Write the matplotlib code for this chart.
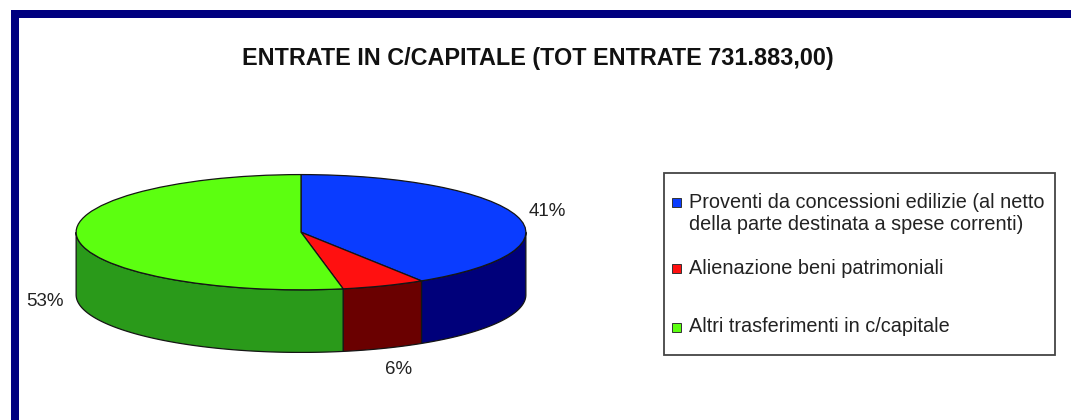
import numpy as np
import matplotlib
matplotlib.use("Agg")
import matplotlib.pyplot as plt
from matplotlib.patches import Polygon, Rectangle

plt.rcParams['font.family'] = ['Liberation Sans', 'DejaVu Sans']

title = "ENTRATE IN C/CAPITALE (TOT ENTRATE 731.883,00)"
categories = ["Proventi da concessioni edilizie (al netto\ndella parte destinata a spese correnti)",
              "Alienazione beni patrimoniali",
              "Altri trasferimenti in c/capitale"]
values = [41, 6, 53]
top_colors = ["#0a3cff", "#ff1010", "#5cff10"]
side_colors = ["#00007a", "#6a0000", "#2a9a1a"]

W, H = 1071, 420
fig = plt.figure(figsize=(W / 100, H / 100), dpi=100)
fig.patch.set_facecolor("white")

# overlay axes in pixel coordinates
ov = fig.add_axes([0, 0, 1, 1])
ov.set_xlim(0, W)
ov.set_ylim(H, 0)
ov.axis("off")
ov.add_patch(Rectangle((11, 10), W, 8, facecolor="#000080", edgecolor="none"))
ov.add_patch(Rectangle((11, 10), 8, H, facecolor="#000080", edgecolor="none"))
ov.text(538, 58, title, ha="center", va="center", fontsize=16.8, fontweight="bold", color="#111111")

# pie axes (elliptical top + extruded sides)
depth = 63 / 58
pl, pr, pt, pb = 75, 527, 174, 353
pax = fig.add_axes([pl / W, 1 - pb / H, (pr - pl) / W, (pb - pt) / H])
total = float(sum(values))
angles = [90.0]
for v in values:
    angles.append(angles[-1] - 360.0 * v / total)

edge = "#151515"
for i in range(len(values)):
    a_hi, a_lo = angles[i], angles[i + 1]
    for shift in (-360.0, 0.0, 360.0):
        lo = max(a_lo + shift, -180.0)
        hi = min(a_hi + shift, 0.0)
        if hi > lo:
            t = np.radians(np.linspace(lo, hi, 100))
            xs = np.concatenate([np.cos(t), np.cos(t[::-1])])
            ys = np.concatenate([np.sin(t), np.sin(t[::-1]) - depth])
            pax.add_patch(Polygon(np.column_stack([xs, ys]), closed=True,
                                  facecolor=side_colors[i], edgecolor=edge, linewidth=0.9))

pax.pie(values, colors=top_colors, startangle=90, counterclock=False,
        wedgeprops=dict(edgecolor=edge, linewidth=0.9))
pax.set_aspect("auto")
pax.set_xlim(-1.005, 1.005)
pax.set_ylim(-1 - depth - 0.01, 1.01)
pax.axis("off")

# percentage labels
label_pos = [(547, 211), (399, 369), (45, 301)]
for v, (x, y) in zip(values, label_pos):
    ov.text(x, y, f"{v}%", ha="center", va="center", fontsize=13.5, color="#222222")

# legend box
ov.add_patch(Rectangle((664, 173), 391, 182, facecolor="white", edgecolor="#444444", linewidth=1.3))
leg_y = [213.5, 268, 327]
for lab, c, y in zip(categories, top_colors, leg_y):
    sq_y = y - 11.5 if "\n" in lab else y
    ov.add_patch(Rectangle((672, sq_y - 4.5), 9, 9, facecolor=c, edgecolor="#333333", linewidth=0.7))
    ov.text(689, y, lab, ha="left", va="center", fontsize=14.3, color="#222222", linespacing=1.22)

fig.savefig("out.png", dpi=100)
